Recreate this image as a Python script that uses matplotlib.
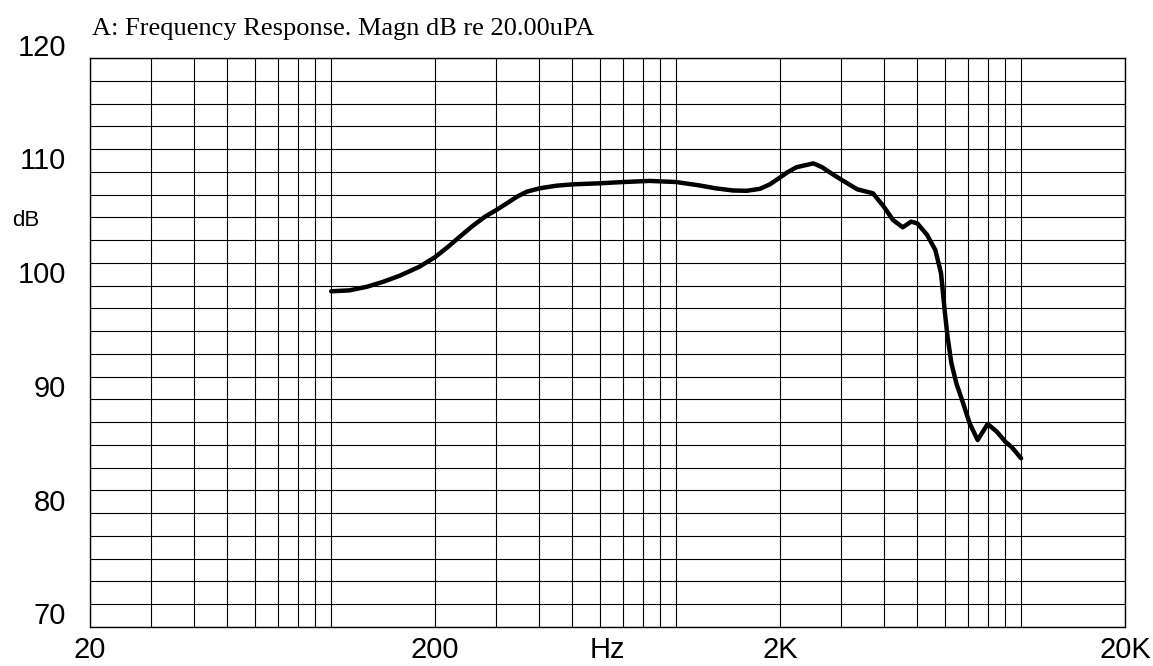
import matplotlib
matplotlib.use('Agg')
import matplotlib.pyplot as plt
import matplotlib.transforms as mtransforms


TITLE = 'A: Frequency Response. Magn dB re 20.00uPA'

# measured response (Hz, dB)
freq = [100, 113, 127, 142, 158, 180, 200, 218, 236, 256, 279, 301, 322,
        345, 369, 402, 450, 503, 601, 700, 838, 1001, 1170, 1300, 1459,
        1600, 1748, 1870, 2000, 2100, 2232, 2500, 2650, 2798, 3000, 3350,
        3720, 4000, 4253, 4539, 4798, 5000, 5340, 5640, 5860, 6000, 6120,
        6280, 6490, 6790, 7090, 7480, 8000, 8500, 9000, 9400, 10000]
magn = [99.5, 99.58, 99.9, 100.35, 100.87, 101.65, 102.5, 103.4, 104.3,
        105.2, 106.05, 106.64, 107.2, 107.8, 108.25, 108.55, 108.78, 108.9,
        108.99, 109.1, 109.2, 109.1, 108.8, 108.55, 108.36, 108.33, 108.5,
        108.9, 109.5, 109.95, 110.4, 110.74, 110.4, 109.92, 109.34, 108.46,
        108.11, 106.93, 105.76, 105.12, 105.62, 105.47, 104.45, 103.13,
        101.08, 97.86, 95.5, 93.17, 91.41, 89.66, 87.9, 86.43, 87.84, 87.16,
        86.28, 85.79, 84.82]

x_ticks = [20, 200, 2000, 20000]
x_tick_labels = ['20', '200', '2K', '20K']
y_ticks = [70, 80, 90, 100, 110, 120]

SANS = ['Liberation Sans Narrow', 'Liberation Sans', 'DejaVu Sans']
SERIF = ['Liberation Serif', 'DejaVu Serif']


def grid_freqs():
    out = []
    for decade in (10, 100, 1000):
        for k in range(2, 11):
            out.append(k * decade)
    out.append(20000)
    return out


def main():
    fig = plt.figure(figsize=(11.53, 6.66), dpi=100)
    ax = fig.add_axes([0.0781, 0.0586, 0.8976, 0.8543])

    ax.set_xscale('log')
    ax.set_xlim(20, 20000)
    ax.set_ylim(70, 120)

    for f in grid_freqs():
        ax.axvline(f, color='black', lw=0.8, zorder=1)
    for y in range(70, 121, 2):
        ax.axhline(y, color='black', lw=0.8, zorder=1)

    ax.plot(freq, magn, color='black', lw=3.2, solid_joinstyle='round',
            solid_capstyle='round', zorder=3)

    for s in ax.spines.values():
        s.set_linewidth(1.0)

    ax.set_xticks([])
    ax.set_yticks([])
    ax.minorticks_off()
    ax.tick_params(which='both', length=0)

    # y labels sit a little above their grid line
    ytrans = mtransforms.offset_copy(
        ax.get_yaxis_transform(), fig=fig, x=-24, y=10.5, units='dots')
    for y in y_ticks:
        ax.text(0, y, str(y), transform=ytrans, ha='right', va='center',
                fontsize=21, family=SANS)

    xtrans = mtransforms.offset_copy(
        ax.get_xaxis_transform(), fig=fig, x=0, y=-23, units='dots')
    for x, lab in zip(x_ticks, x_tick_labels):
        ax.text(x, 0, lab, transform=xtrans, ha='center', va='center',
                fontsize=21, family=SANS)

    ax.text(0.5, 0, 'Hz', transform=mtransforms.offset_copy(
        ax.transAxes, fig=fig, x=0, y=-23, units='dots'),
        ha='center', va='center', fontsize=21, family=SANS)

    fig.text(26 / 1153, 1 - 220 / 666, 'dB', ha='center', va='center',
             fontsize=16, family=SANS)

    fig.text(92 / 1153, 1 - 35 / 666, TITLE, ha='left', va='baseline',
             fontsize=19, family=SERIF)

    fig.savefig('out.png', dpi=100)


if __name__ == '__main__':
    main()
